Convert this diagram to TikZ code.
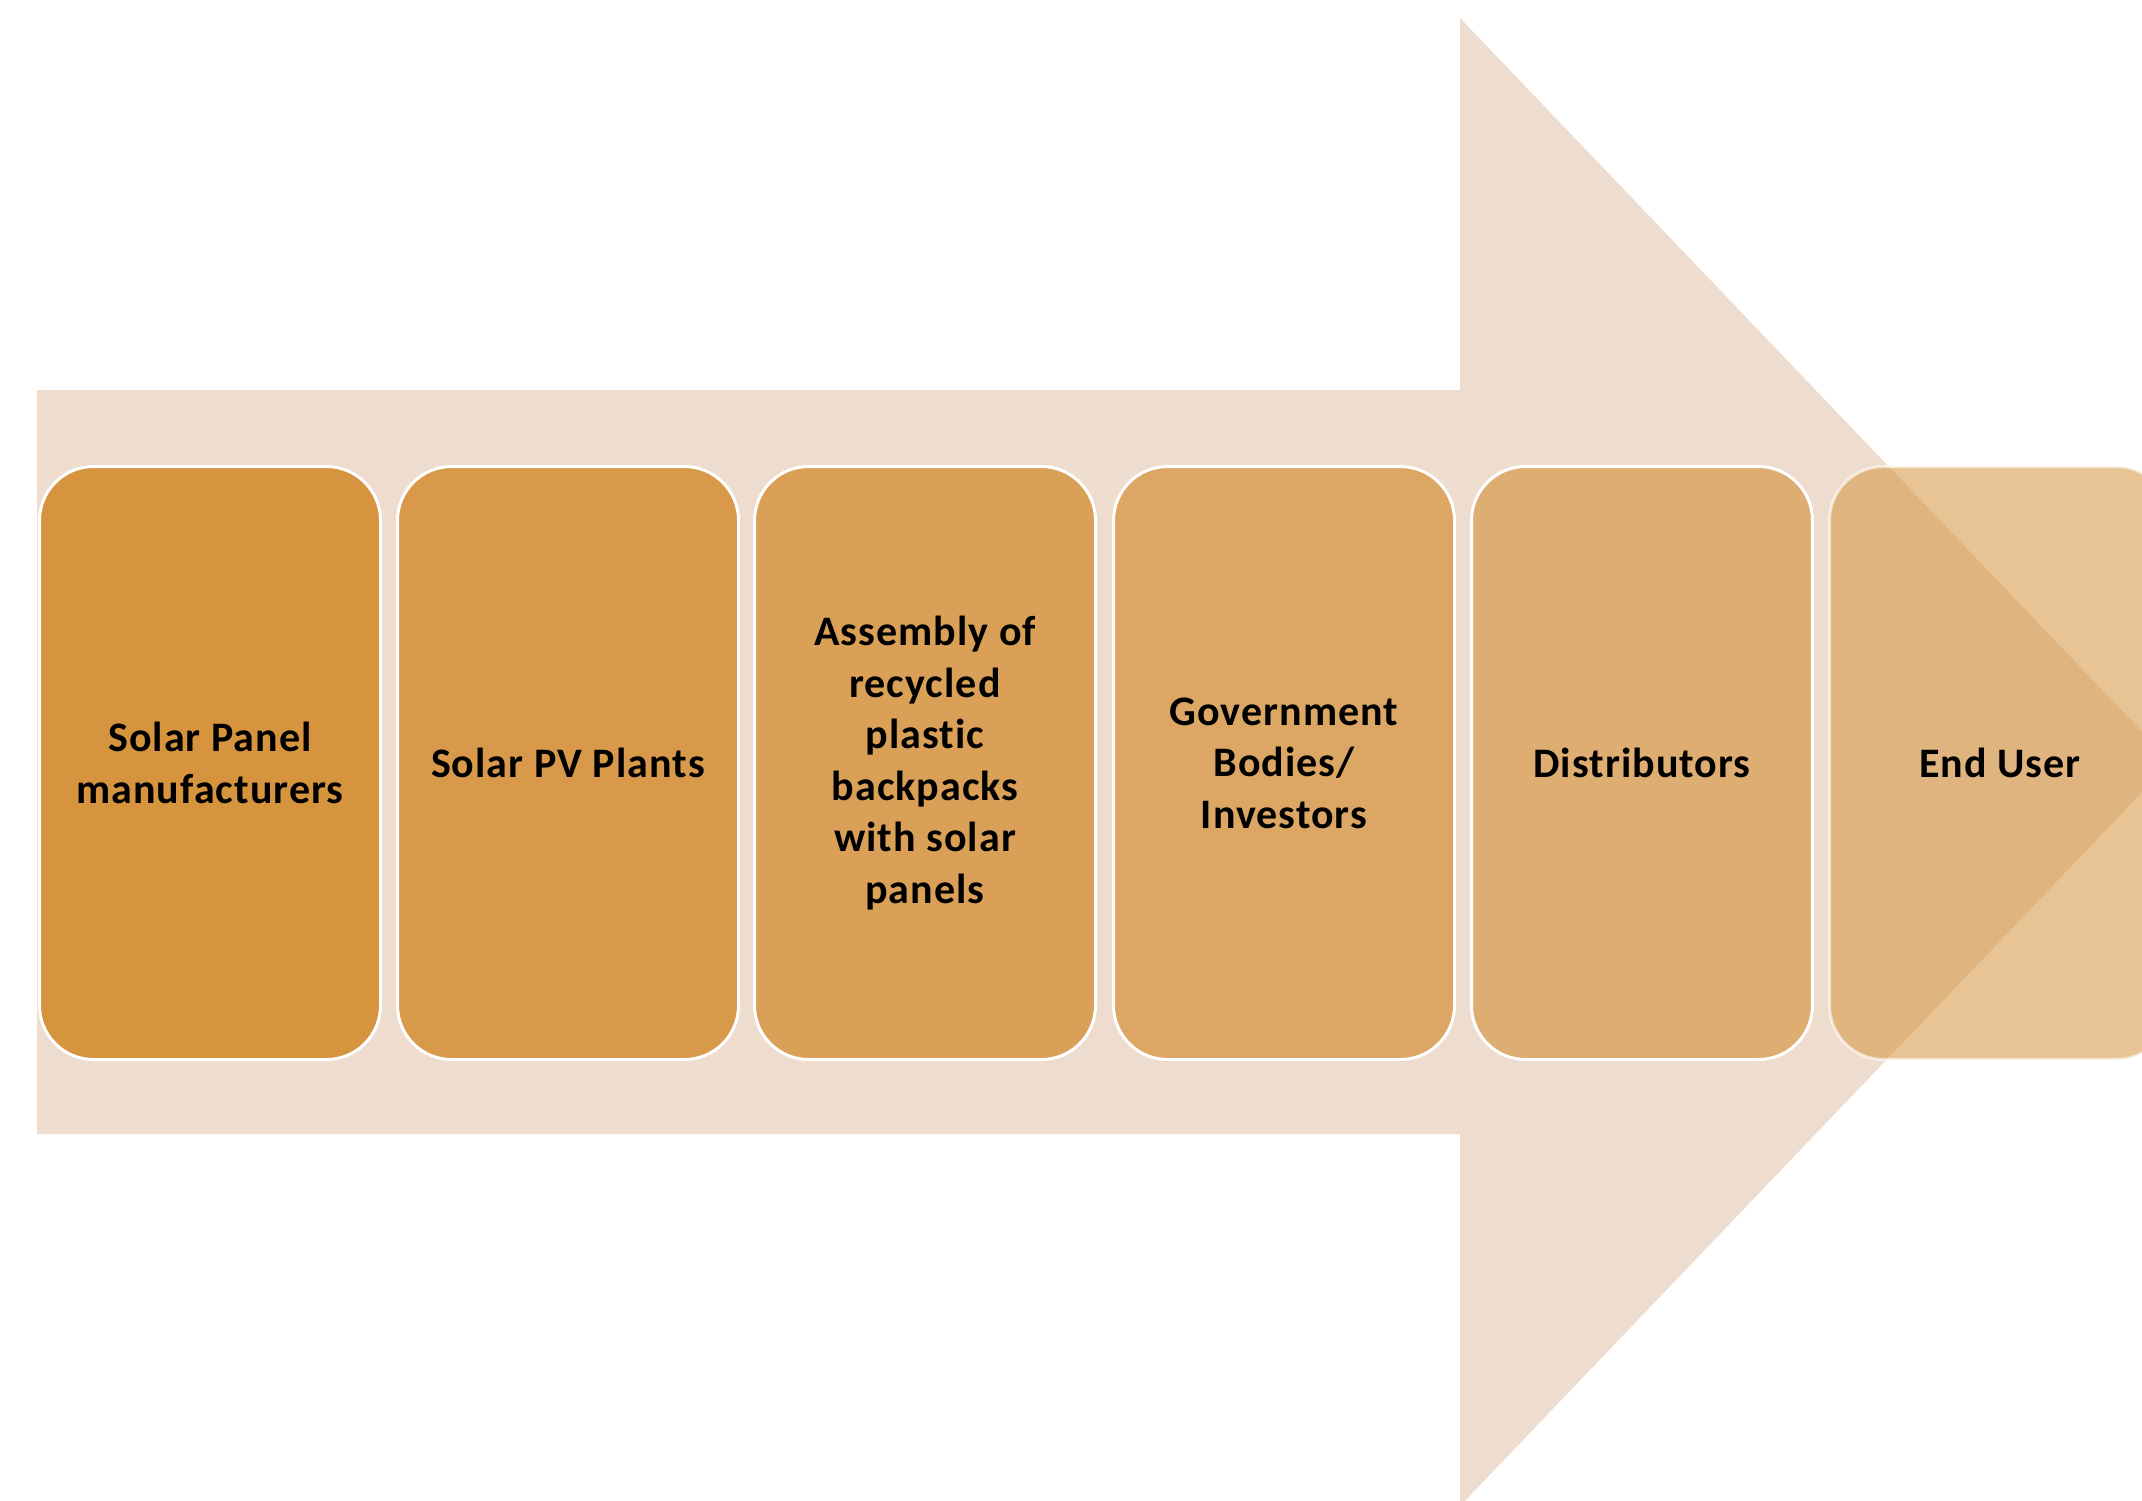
\documentclass[tikz,border=0pt]{standalone}
\usepackage{fontspec}
\setmainfont[LetterSpace=2.5,Ligatures={NoCommon}]{Carlito}
\definecolor{arrowfill}{HTML}{EEDCCE}
\definecolor{stagefill}{HTML}{D6943E}
\begin{document}
\begin{tikzpicture}[x=1pt,y=-1pt,
  stage/.style={rectangle, rounded corners=54pt, minimum width=341pt,
    minimum height=593pt, draw=white, line width=3pt, fill=stagefill,
    text opacity=1, align=center, text=black,
    font=\fontsize{42}{51.5}\selectfont\bfseries}]
  \useasboundingbox (0,0) rectangle (2142,1500);
  \clip (0,0) rectangle (2142,1500);
  % large background arrow
  \fill[arrowfill] (37,390) -- (1460,390) -- (1460,18) -- (2171,762)
    -- (1460,1506) -- (1460,1134) -- (37,1134) -- cycle;
  % stages, fading along the chain
  \node[stage, fill opacity=1.00] (s1) at (210,763) {Solar Panel\\manufacturers};
  \node[stage, fill opacity=0.91] (s2) at (568,763) {Solar PV Plants};
  \node[stage, fill opacity=0.82] (s3) at (925,763) {Assembly of\\recycled\\plastic\\backpacks\\with solar\\panels};
  \node[stage, fill opacity=0.73] (s4) at (1284,763) {Government\\Bodies/\\Investors};
  \node[stage, fill opacity=0.64] (s5) at (1642,763) {Distributors};
  \node[stage, fill opacity=0.55, draw opacity=0.6] (s6) at (2000,763) {End User};
\end{tikzpicture}
\end{document}
